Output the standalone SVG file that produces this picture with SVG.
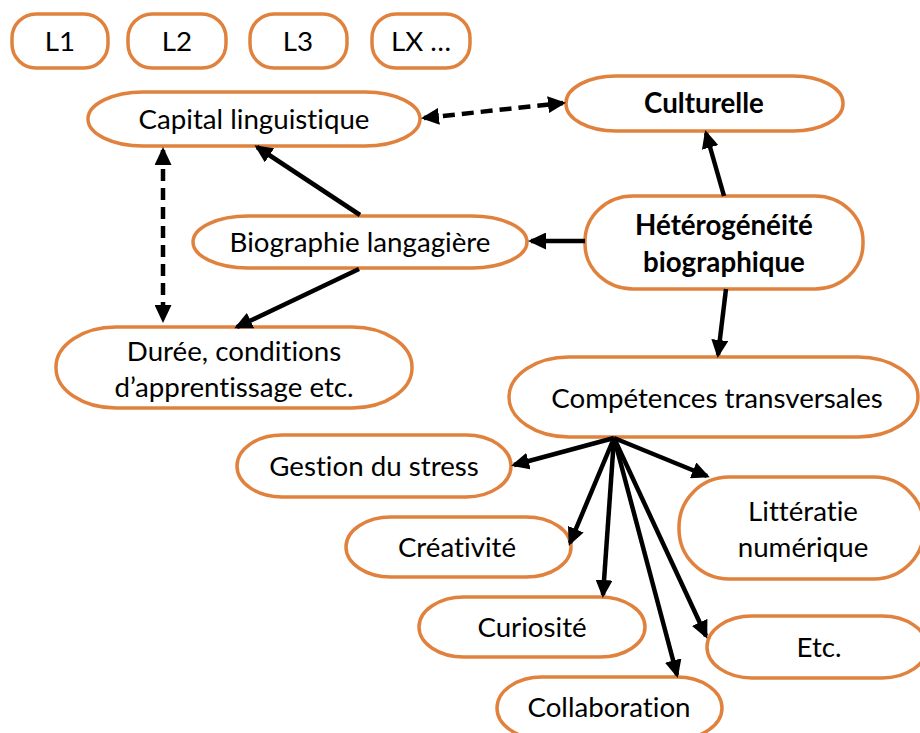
<svg xmlns="http://www.w3.org/2000/svg" width="920" height="733" viewBox="0 0 920 733">
<style>
.n{fill:#fff;stroke:#E0823D;stroke-width:3.5}
.t{font-family:Lato,"Liberation Sans",sans-serif;font-size:27.7px;fill:#000;text-anchor:middle;dominant-baseline:central;font-variant-ligatures:none;font-feature-settings:"liga" 0}
.b{font-weight:bold}
.c{stroke:#000;stroke-width:4.5;fill:none}
.d{stroke-dasharray:12 7}
</style>
<defs>
<marker id="a" markerUnits="userSpaceOnUse" markerWidth="18" markerHeight="17" refX="15" refY="8.5" orient="auto-start-reverse">
<path d="M0,0 L18,8.5 L0,17 z" fill="#000"/>
</marker>
</defs>
<rect width="920" height="733" fill="#fff"/>
<g id="L1"><rect class="n" x="12" y="14" width="96" height="54" rx="24"/><text class="t" x="60" y="40">L1</text></g>
<g id="L2"><rect class="n" x="128" y="14" width="98" height="54" rx="24"/><text class="t" x="177" y="40">L2</text></g>
<g id="L3"><rect class="n" x="250" y="14" width="97" height="54" rx="24"/><text class="t" x="298" y="40">L3</text></g>
<g id="LX"><rect class="n" x="372" y="14" width="98" height="54" rx="24"/><text class="t" x="421" y="40">LX …</text></g>
<g id="capital"><rect class="n" x="88" y="92" width="332" height="54" rx="55" ry="27"/><text class="t" x="254" y="118">Capital linguistique</text></g>
<g id="culturelle"><rect class="n" x="566" y="76" width="277" height="55" rx="50" ry="27"/><text class="t b" x="704" y="102">Culturelle</text></g>
<g id="heterogeneite"><rect class="n" x="585" y="196" width="278" height="93" rx="48" ry="45"/><text class="t b" x="724" y="224">Hétérogénéité</text><text class="t b" x="724" y="261">biographique</text></g>
<g id="biographie"><rect class="n" x="193" y="216" width="334" height="52" rx="55" ry="26"/><text class="t" x="360" y="241">Biographie langagière</text></g>
<g id="duree"><rect class="n" x="56" y="327" width="356" height="81" rx="60" ry="40"/><text class="t" x="234" y="350">Durée, conditions</text><text class="t" x="234" y="386">d’apprentissage etc.</text></g>
<g id="competences"><rect class="n" x="509" y="357" width="409" height="80" rx="60" ry="40"/><text class="t" x="717" y="397">Compétences transversales</text></g>
<g id="gestion"><rect class="n" x="237" y="435" width="274" height="62" rx="45" ry="31"/><text class="t" x="374" y="465">Gestion du stress</text></g>
<g id="creativite"><rect class="n" x="346" y="517" width="225" height="60" rx="45" ry="30"/><text class="t" x="457" y="546">Créativité</text></g>
<g id="curiosite"><rect class="n" x="419" y="597" width="226" height="60" rx="45" ry="30"/><text class="t" x="532" y="626">Curiosité</text></g>
<g id="collaboration"><rect class="n" x="497" y="677" width="225" height="62" rx="45" ry="31"/><text class="t" x="609" y="706">Collaboration</text></g>
<g id="litteratie"><rect class="n" x="679" y="477" width="245" height="102" rx="50" ry="50"/><text class="t" x="803" y="510">Littératie</text><text class="t" x="803" y="546">numérique</text></g>
<g id="etc"><rect class="n" x="707" y="616" width="220" height="62" rx="45" ry="31"/><text class="t" x="819" y="646">Etc.</text></g>
<g id="connectors">
<line class="c d" x1="424" y1="118" x2="563" y2="103" marker-start="url(#a)" marker-end="url(#a)"/>
<line class="c d" x1="163" y1="150" x2="163" y2="320" marker-start="url(#a)" marker-end="url(#a)"/>
<line class="c" x1="360" y1="215" x2="257" y2="147" marker-end="url(#a)"/>
<line class="c" x1="359" y1="269" x2="237" y2="327" marker-end="url(#a)"/>
<line class="c" x1="585" y1="241" x2="531" y2="241" marker-end="url(#a)"/>
<line class="c" x1="724" y1="196" x2="706" y2="133" marker-end="url(#a)"/>
<line class="c" x1="726" y1="289" x2="718" y2="355" marker-end="url(#a)"/>
<line class="c" x1="614" y1="438" x2="514" y2="465" marker-end="url(#a)"/>
<line class="c" x1="614" y1="438" x2="570" y2="543" marker-end="url(#a)"/>
<line class="c" x1="614" y1="438" x2="603" y2="595" marker-end="url(#a)"/>
<line class="c" x1="614" y1="438" x2="677" y2="675" marker-end="url(#a)"/>
<line class="c" x1="614" y1="438" x2="707" y2="476" marker-end="url(#a)"/>
<line class="c" x1="614" y1="438" x2="706" y2="636" marker-end="url(#a)"/>
</g>
</svg>
